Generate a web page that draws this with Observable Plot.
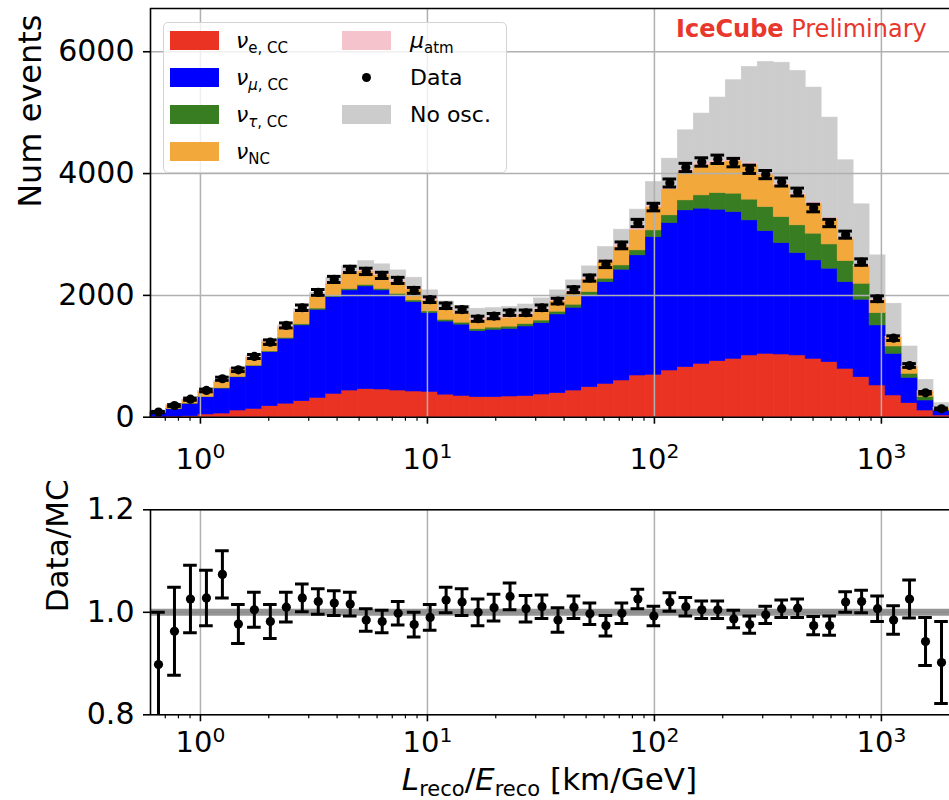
<!DOCTYPE html>
<html>
<head>
<meta charset="utf-8">
<script src="https://cdn.jsdelivr.net/npm/d3@7"></script>
<script src="https://cdn.jsdelivr.net/npm/@observablehq/plot@0.6"></script>
<style>
  body { margin: 0; background: #fff; font-family: "DejaVu Sans", sans-serif; }
  #wrap { position: relative; width: 949px; height: 800px; overflow: hidden; background: #fff; }
  #wrap svg { position: absolute; left: 0; }
  .abs { position: absolute; line-height: 1; white-space: nowrap; color: #000; }
  .legend { position: absolute; left: 163px; top: 22px; width: 344px; height: 151px; box-sizing: border-box;
            border: 1.3px solid #d4d4d4; border-radius: 5px; background: rgba(255,255,255,0.8); }
  .patch { position: absolute; width: 49px; height: 19px; }
  .lt { font-size: 22px; }
  .lt i { font-style: italic; }
  .lt sub { font-size: 15px; vertical-align: -5px; line-height: 0; }
</style>
</head>
<body>
<div id="wrap"></div>
<script>
// ---- binning (log10 of L/E, km/GeV) ----
const logEdgeMin = -0.22, logEdgeMax = 3.3, nBins = 50;

// ---- stacked MC components (events per bin) ----
const nuE   = [8,10,15,45,60,110,137,181,222,263,318,384,438,460,455,438,422,416,370,350,329,329,340,346,373,395,438,493,548,603,685,697,767,822,877,920,959,1014,1041,1030,1014,959,904,795,657,521,357,230,110,28];
const nuMu  = [60,125,205,285,410,545,700,887,1066,1244,1446,1588,1644,1687,1627,1562,1468,1293,1200,1170,1084,1107,1110,1144,1172,1292,1359,1507,1670,1819,1972,2260,2421,2574,2547,2487,2409,2218,2015,1829,1681,1616,1534,1423,1272,986,684,417,164,71];
const nuTau = [2,3,4,5,6,8,10,12,15,18,20,22,24,25,25,26,27,28,30,32,33,35,37,40,42,45,50,55,56,70,82,110,126,164,218,273,302,340,394,427,455,438,399,345,262,202,120,66,60,20];
const nuNC  = [20,55,57,83,101,118,128,153,164,195,193,196,249,223,229,190,183,179,157,150,142,146,148,145,162,175,197,208,274,307,340,379,428,467,500,507,540,574,531,528,500,497,422,363,294,214,151,110,88,32];
const muAtm = [5,6,7,9,11,15,17,22,25,28,30,32,34,35,35,34,33,32,30,30,28,28,28,28,28,28,28,28,28,28,28,28,28,28,27,26,25,24,22,20,18,16,14,12,10,8,6,4,3,2];
const noOsc = [96,201,291,431,594,804,1002,1268,1510,1775,2045,2290,2480,2563,2509,2410,2290,2082,1900,1830,1781,1790,1810,1850,1950,2082,2246,2476,2793,3079,3408,3861,4245,4710,4985,5248,5532,5750,5832,5820,5685,5412,4919,4218,3495,2657,1863,1161,614,230];

// ---- data ----
const dataCounts = [85,192,296,439,631,778,997,1232,1507,1797,2049,2262,2427,2394,2328,2246,2082,1929,1830,1767,1616,1660,1715,1715,1797,1906,2093,2284,2509,2821,3188,3450,3845,4100,4190,4234,4180,4070,3983,3861,3697,3434,3188,2997,2547,1945,1298,849,401,138];
const dataErr = [10,15,18,22,26,29,33,37,41,45,48,50,52,52,51,50,48,46,45,44,42,43,44,44,45,46,48,51,53,56,60,62,66,68,69,69,69,68,67,66,64,62,60,58,53,47,38,31,21,13];
const ratio = [0.898,0.963,1.026,1.028,1.074,0.977,1.005,0.982,1.010,1.028,1.021,1.018,1.016,0.985,0.982,0.998,0.976,0.990,1.024,1.020,1.000,1.009,1.031,1.007,1.011,0.985,1.010,0.997,0.974,0.998,1.026,0.993,1.020,1.011,1.005,1.005,0.987,0.976,0.995,1.007,1.008,0.974,0.974,1.020,1.021,1.007,0.985,1.026,0.943,0.902];
const ratioErr = [0.102,0.086,0.066,0.054,0.046,0.038,0.034,0.033,0.029,0.027,0.025,0.024,0.023,0.022,0.022,0.023,0.024,0.025,0.025,0.026,0.026,0.026,0.026,0.026,0.023,0.024,0.022,0.021,0.020,0.020,0.019,0.019,0.018,0.018,0.017,0.017,0.017,0.017,0.017,0.017,0.018,0.018,0.019,0.020,0.022,0.025,0.028,0.037,0.047,0.080];

// ---- axes / ticks ----
const topYTicks = [0, 2000, 4000, 6000];
const topYMax = 6710;
const ratioTicks = [0.8, 1.0, 1.2];
const xMajor = [1, 10, 100, 1000];

const colors = { nuE: "#eb3323", nuMu: "#0000ff", nuTau: "#387d22", nuNC: "#f2a83b", muAtm: "#f5c3cb", noOsc: "#cccccc" };
const GRID = "#b0b0b0";

// ---- derived tables ----
const step = (logEdgeMax - logEdgeMin) / nBins;
const edges = d3.range(nBins + 1).map(i => 10 ** (logEdgeMin + step * i));
const capHalf = 0.03; // in decades
const bins = d3.range(nBins).map(i => {
  const lc = logEdgeMin + step * (i + 0.5);
  return { i, x1: edges[i], x2: edges[i + 1], c: 10 ** lc, cl: 10 ** (lc - capHalf), cr: 10 ** (lc + capHalf) };
});
const comps = [["nuE", nuE], ["nuMu", nuMu], ["nuTau", nuTau], ["nuNC", nuNC], ["muAtm", muAtm]];
const stackRows = [];
bins.forEach(b => {
  let base = 0;
  for (const [k, arr] of comps) {
    const v = arr[b.i];
    stackRows.push({ x1: b.x1, x2: b.x2, y1: base, y2: base + v, fill: colors[k] });
    base += v;
  }
});
const greyRows = bins.map(b => ({ x1: b.x1, x2: b.x2, y: noOsc[b.i] }));
const dataRows = bins.map(b => ({ ...b, d: dataCounts[b.i], lo: dataCounts[b.i] - dataErr[b.i], hi: dataCounts[b.i] + dataErr[b.i] }));
const ratioRows = bins.map(b => ({ ...b, r: ratio[b.i], lo: ratio[b.i] - ratioErr[b.i], hi: ratio[b.i] + ratioErr[b.i] }));

const xDomain = [10 ** logEdgeMin, 10 ** logEdgeMax];
const xMinor = [];
for (const dec of [0.1, 1, 10, 100, 1000]) for (let k = 2; k <= 9; k++) {
  const v = dec * k;
  if (v > xDomain[0] && v < xDomain[1]) xMinor.push(v);
}
const supFmt = d => "10|" + Math.round(Math.log10(d));

function spineMarks(yLo, yHi) {
  return [
    Plot.ruleX([xDomain[0]], { y1: yLo, y2: yHi, stroke: "#000", strokeWidth: 1.6 }),
    Plot.ruleY([yLo], { stroke: "#000", strokeWidth: 1.6 }),
    Plot.ruleY([yHi], { stroke: "#000", strokeWidth: 1.6 })
  ];
}

const common = {
  width: 949, marginLeft: 150, marginRight: 0,
  x: { type: "log", domain: xDomain },
  color: { type: "identity" },
  style: { background: "transparent", fontFamily: "DejaVu Sans", overflow: "visible", color: "#000" }
};

const topPlot = Plot.plot({
  ...common,
  height: 490, marginTop: 8, marginBottom: 73.3,
  y: { domain: [0, topYMax] },
  marks: [
    Plot.rect(greyRows, { x1: "x1", x2: "x2", y1: 0, y2: "y", fill: colors.noOsc, stroke: colors.noOsc, strokeWidth: 0.6 }),
    Plot.rect(stackRows, { x1: "x1", x2: "x2", y1: "y1", y2: "y2", fill: "fill", stroke: "fill", strokeWidth: 0.6 }),
    Plot.gridX(xMajor, { stroke: GRID, strokeOpacity: 1, strokeWidth: 1.5 }),
    Plot.gridY(topYTicks.slice(1), { stroke: GRID, strokeOpacity: 1, strokeWidth: 1.5 }),
    Plot.ruleX(dataRows, { x: "c", y1: "lo", y2: "hi", stroke: "#000", strokeWidth: 3 }),
    Plot.ruleY(dataRows, { y: "lo", x1: "cl", x2: "cr", stroke: "#000", strokeWidth: 3 }),
    Plot.ruleY(dataRows, { y: "hi", x1: "cl", x2: "cr", stroke: "#000", strokeWidth: 3 }),
    Plot.dot(dataRows, { x: "c", y: "d", r: 4.6, fill: "#000", stroke: "none" }),
    ...spineMarks(0, topYMax),
    Plot.axisY(topYTicks, { tickSize: 7, tickPadding: 9, fontSize: 30, label: null, tickFormat: d => String(d), strokeWidth: 1.6 }),
    Plot.axisX(xMajor, { tickSize: 7, tickPadding: 24, fontSize: 29, label: null, tickFormat: supFmt, strokeWidth: 1.6 }),
    Plot.axisX(xMinor, { tickSize: 4, label: null, tickFormat: () => "", strokeWidth: 1.2 }),
    Plot.text(["Num events"], { frameAnchor: "left", text: d => d, rotate: -90, dx: -120, dy: -5, fontSize: 32 })
  ]
});

const botPlot = Plot.plot({
  ...common,
  height: 310, marginTop: 19.3, marginBottom: 85.7,
  y: { domain: [0.8, 1.2] },
  marks: [
    Plot.gridX(xMajor, { stroke: GRID, strokeOpacity: 1, strokeWidth: 1.5 }),
    Plot.gridY(ratioTicks, { stroke: GRID, strokeOpacity: 1, strokeWidth: 1.5 }),
    Plot.ruleY([1], { stroke: "#8a8a8a", strokeWidth: 7, strokeOpacity: 0.9 }),
    Plot.ruleX(ratioRows, { x: "c", y1: "lo", y2: "hi", stroke: "#000", strokeWidth: 3, clip: true }),
    Plot.ruleY(ratioRows, { y: "lo", x1: "cl", x2: "cr", stroke: "#000", strokeWidth: 3, clip: true }),
    Plot.ruleY(ratioRows, { y: "hi", x1: "cl", x2: "cr", stroke: "#000", strokeWidth: 3, clip: true }),
    Plot.dot(ratioRows, { x: "c", y: "r", r: 4.6, fill: "#000", stroke: "none", clip: true }),
    ...spineMarks(0.8, 1.2),
    Plot.axisY(ratioTicks, { tickSize: 7, tickPadding: 9, fontSize: 30, label: null, tickFormat: d3.format(".1f"), strokeWidth: 1.6 }),
    Plot.axisX(xMajor, { tickSize: 7, tickPadding: 10, fontSize: 29, label: null, tickFormat: supFmt, strokeWidth: 1.6 }),
    Plot.axisX(xMinor, { tickSize: 4, label: null, tickFormat: () => "", strokeWidth: 1.2 }),
    Plot.text(["Data/MC"], { frameAnchor: "left", text: d => d, rotate: -90, dx: -92, fontSize: 31 })
  ]
});

function superscriptTicks(svg) {
  d3.select(svg).selectAll("text").each(function () {
    const t = this.textContent;
    if (!t || !t.includes("|") || this.querySelector("tspan")) return;
    const [b, e] = t.split("|");
    this.textContent = "";
    const s = d3.select(this);
    s.append("tspan").text(b);
    s.append("tspan").attr("dy", "-0.52em").attr("font-size", "0.7em").text(e);
  });
}
superscriptTicks(topPlot);
superscriptTicks(botPlot);

const wrap = document.getElementById("wrap");
topPlot.style.top = "0px";
botPlot.style.top = "490px";
wrap.appendChild(topPlot);
wrap.appendChild(botPlot);

// ---- overlays: legend, label, watermark ----
function addHTML(html) { const d = document.createElement("div"); d.innerHTML = html; while (d.firstChild) wrap.appendChild(d.firstChild); }

const legendRows = [
  { col: 0, row: 0, kind: "patch", color: colors.nuE,   label: '<i>ν</i><sub>e, CC</sub>' },
  { col: 0, row: 1, kind: "patch", color: colors.nuMu,  label: '<i>ν</i><sub><i>μ</i>, CC</sub>' },
  { col: 0, row: 2, kind: "patch", color: colors.nuTau, label: '<i>ν</i><sub><i>τ</i>, CC</sub>' },
  { col: 0, row: 3, kind: "patch", color: colors.nuNC,  label: '<i>ν</i><sub>NC</sub>' },
  { col: 1, row: 0, kind: "patch", color: colors.muAtm, label: '<i>μ</i><sub>atm</sub>' },
  { col: 1, row: 1, kind: "dot",   color: "#000",       label: 'Data' },
  { col: 1, row: 2, kind: "patch", color: colors.noOsc, label: 'No osc.' }
];
let lh = '<div class="legend"></div>';
const rowY = [40, 77, 114, 151];
const patchX = [170, 342], textX = [236, 410];
for (const e of legendRows) {
  const cy = rowY[e.row];
  if (e.kind === "patch") {
    lh += `<div class="patch" style="left:${patchX[e.col]}px;top:${cy - 9.5}px;background:${e.color}"></div>`;
  } else {
    lh += `<div class="patch" style="left:${patchX[e.col] + 20}px;top:${cy - 4.5}px;width:9px;height:9px;border-radius:50%;background:${e.color}"></div>`;
  }
  lh += `<div class="abs lt" style="left:${textX[e.col]}px;top:${cy - 10.5}px">${e.label}</div>`;
}
addHTML(lh);

addHTML('<div class="abs" style="left:676px;top:17px;font-size:24px;color:#e8372c"><b>IceCube</b> Preliminary</div>');
addHTML('<div class="abs" style="left:0;width:1099px;top:764px;font-size:31px;text-align:center"><i>L</i><sub style="font-size:21px;vertical-align:-6px;line-height:0">reco</sub>/<i>E</i><sub style="font-size:21px;vertical-align:-6px;line-height:0">reco</sub> [km/GeV]</div>');
</script>
</body>
</html>
